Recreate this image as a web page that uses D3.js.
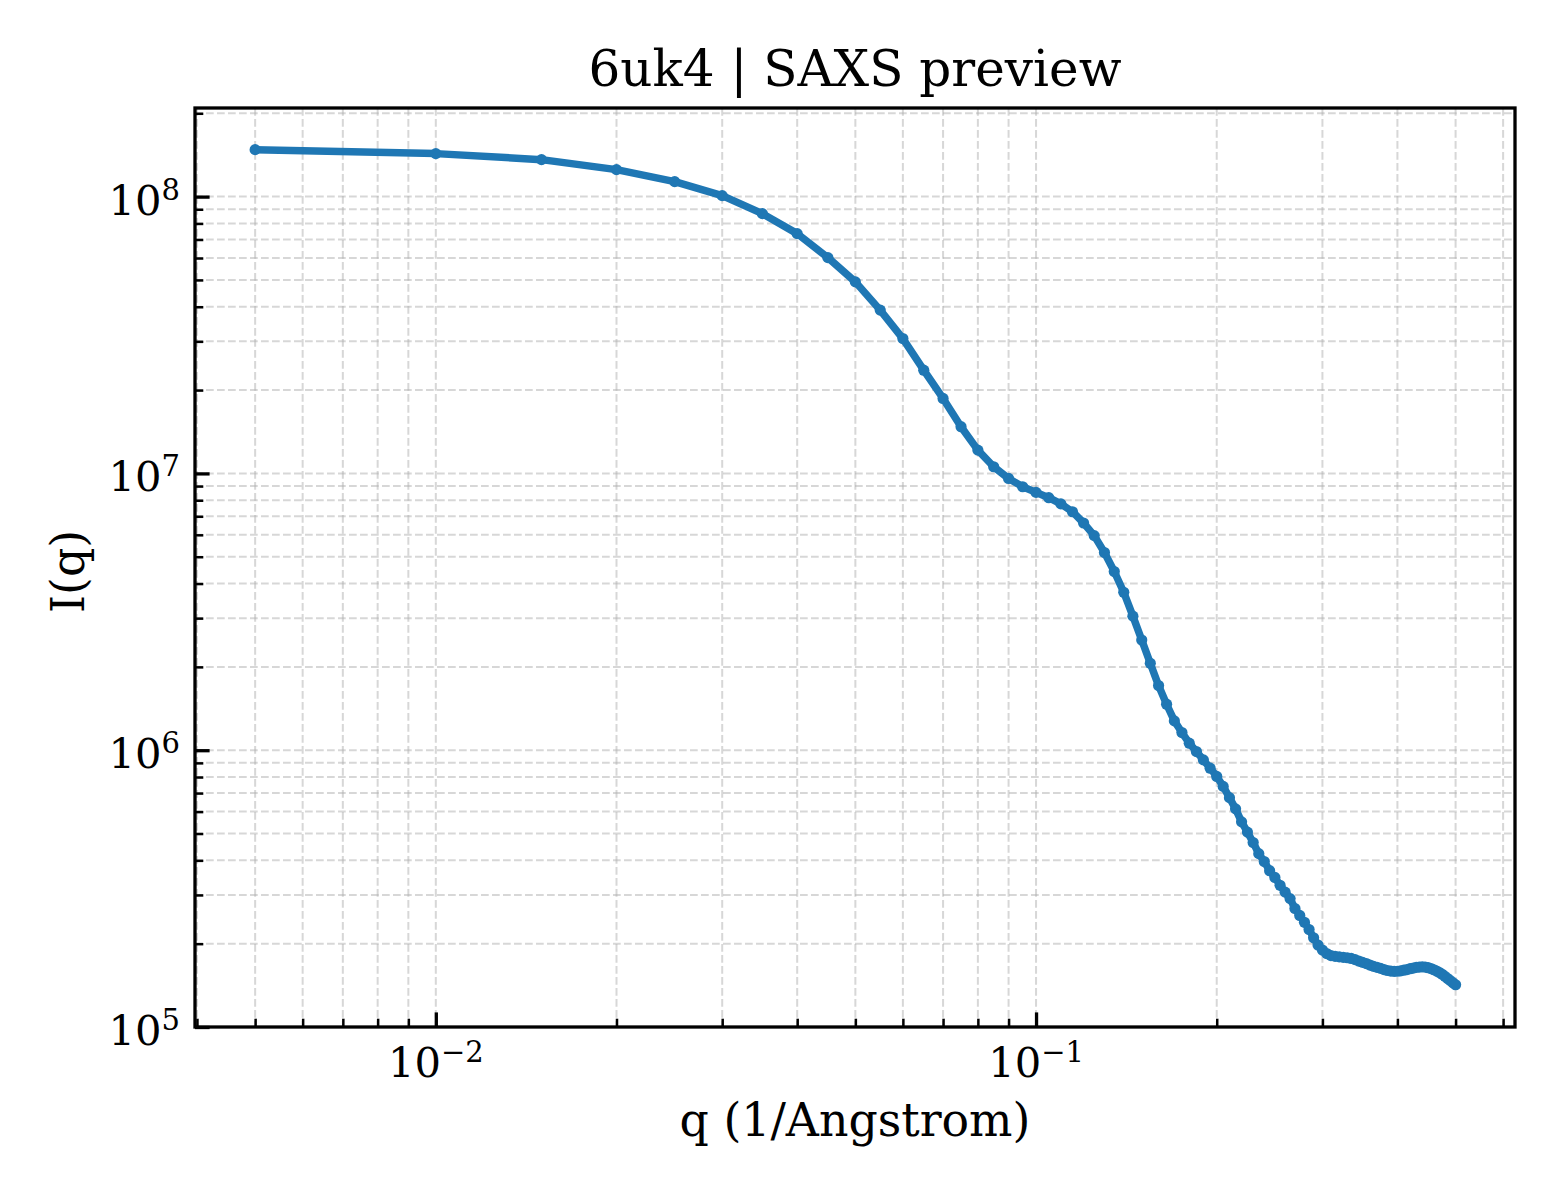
<!DOCTYPE html>
<html>
<head>
<meta charset="utf-8">
<script src="https://cdn.jsdelivr.net/npm/d3@7"></script>
<style>
  body { margin: 0; background: #fff; }
  svg { display: block; font-family: "DejaVu Serif", serif; }
</style>
</head>
<body>
<div id="chart"></div>
<script>
// scattering vector q (1/Angstrom)
var qValues = [
  0.005, 0.010, 0.015, 0.020, 0.025, 0.030, 0.035, 0.040, 0.045, 0.050,
  0.055, 0.060, 0.065, 0.070, 0.075, 0.080, 0.085, 0.090, 0.095, 0.100,
  0.105, 0.110, 0.115, 0.120, 0.125, 0.130, 0.135, 0.140, 0.145, 0.150,
  0.155, 0.160, 0.165, 0.170, 0.175, 0.180, 0.185, 0.190, 0.195, 0.200,
  0.205, 0.210, 0.215, 0.220, 0.225, 0.230, 0.235, 0.240, 0.245, 0.250,
  0.255, 0.260, 0.265, 0.270, 0.275, 0.280, 0.285, 0.290, 0.295, 0.300,
  0.305, 0.310, 0.315, 0.320, 0.325, 0.330, 0.335, 0.340, 0.345, 0.350,
  0.355, 0.360, 0.365, 0.370, 0.375, 0.380, 0.385, 0.390, 0.395, 0.400,
  0.405, 0.410, 0.415, 0.420, 0.425, 0.430, 0.435, 0.440, 0.445, 0.450,
  0.455, 0.460, 0.465, 0.470, 0.475, 0.480, 0.485, 0.490, 0.495, 0.500
];

// intensity I(q)
var intensity = [
  1.478e8, 1.430e8, 1.360e8, 1.252e8, 1.133e8, 1.008e8, 8.68e7, 7.35e7, 6.02e7, 4.92e7,
  3.89e7, 3.07e7, 2.36e7, 1.866e7, 1.475e7, 1.214e7, 1.057e7, 9.59e6, 8.95e6, 8.54e6,
  8.17e6, 7.76e6, 7.27e6, 6.62e6, 5.96e6, 5.18e6, 4.42e6, 3.72e6, 3.05e6, 2.50e6,
  2.06e6, 1.712e6, 1.466e6, 1.276e6, 1.158e6, 1.060e6, 9.89e5, 9.23e5, 8.61e5, 8.04e5,
  7.40e5, 6.74e5, 6.14e5, 5.51e5, 5.06e5, 4.64e5, 4.23e5, 3.96e5, 3.67e5, 3.47e5,
  3.25e5, 3.07e5, 2.91e5, 2.68e5, 2.53e5, 2.39e5, 2.25e5, 2.10e5, 1.977e5, 1.897e5,
  1.842e5, 1.812e5, 1.800e5, 1.792e5, 1.786e5, 1.779e5, 1.769e5, 1.752e5, 1.731e5, 1.712e5,
  1.695e5, 1.674e5, 1.656e5, 1.642e5, 1.629e5, 1.613e5, 1.600e5, 1.593e5, 1.589e5, 1.590e5,
  1.596e5, 1.604e5, 1.613e5, 1.624e5, 1.633e5, 1.642e5, 1.646e5, 1.649e5, 1.646e5, 1.638e5,
  1.626e5, 1.610e5, 1.593e5, 1.573e5, 1.550e5, 1.524e5, 1.497e5, 1.471e5, 1.445e5, 1.421e5
];

var xDomain = [0.00397, 0.628];
var yDomain = [1.0e5, 2.09e8];

var xMajorTicks = [0.01, 0.1];
var xTickExponents = ["\u22122", "\u22121"];
var yMajorTicks = [1e5, 1e6, 1e7, 1e8];
var yTickExponents = ["5", "6", "7", "8"];

var titleText = "6uk4 | SAXS preview";
var xLabelText = "q (1/Angstrom)";
var yLabelText = "I(q)";

(function() {
  var width = 1560, height = 1200;
  var margin = {top: 108, right: 45, bottom: 173, left: 195};
  var x0 = margin.left, x1 = width - margin.right;
  var y0 = margin.top, y1 = height - margin.bottom;

  var majorLen = 14.6, minorLen = 8.3;
  var tickFont = 41.7, supFont = 29;
  var lineColor = "#1f77b4";

  var svg = d3.select("#chart").append("svg")
    .attr("width", width)
    .attr("height", height);

  var x = d3.scaleLog().domain(xDomain).range([x0, x1]);
  var y = d3.scaleLog().domain(yDomain).range([y1, y0]);

  function isMajor(v, majors) {
    return majors.some(function(m) { return Math.abs(v / m - 1) < 1e-6; });
  }
  var xAll = x.ticks();
  var yAll = y.ticks();
  var xMinor = xAll.filter(function(v) { return !isMajor(v, xMajorTicks); });
  var yMinor = yAll.filter(function(v) { return !isMajor(v, yMajorTicks); });

  // grid, major and minor
  var grid = svg.append("g")
    .attr("stroke", "#b0b0b0")
    .attr("stroke-opacity", 0.5)
    .attr("stroke-width", 2)
    .attr("stroke-dasharray", "7.7,3.3");

  grid.selectAll("line.gx")
    .data(xAll)
    .enter().append("line")
    .attr("class", "gx")
    .attr("x1", function(d) { return x(d); })
    .attr("x2", function(d) { return x(d); })
    .attr("y1", y0)
    .attr("y2", y1);

  grid.selectAll("line.gy")
    .data(yAll)
    .enter().append("line")
    .attr("class", "gy")
    .attr("x1", x0)
    .attr("x2", x1)
    .attr("y1", function(d) { return y(d); })
    .attr("y2", function(d) { return y(d); });

  // inward ticks, bottom and left only
  function drawAxis(axisFn, scale, values, len, w, transform) {
    var g = svg.append("g")
      .attr("transform", transform)
      .call(axisFn(scale).tickValues(values).tickSizeInner(-len).tickSizeOuter(0).tickFormat(""));
    g.select(".domain").remove();
    g.selectAll(".tick line").attr("stroke", "#000").attr("stroke-width", w);
  }

  drawAxis(d3.axisBottom, x, xMinor, minorLen, 2.5, "translate(0," + y1 + ")");
  drawAxis(d3.axisBottom, x, xMajorTicks, majorLen, 3.3, "translate(0," + y1 + ")");
  drawAxis(d3.axisLeft, y, yMinor, minorLen, 2.5, "translate(" + x0 + ",0)");
  drawAxis(d3.axisLeft, y, yMajorTicks, majorLen, 3.3, "translate(" + x0 + ",0)");

  // data line with markers
  var points = qValues.map(function(q, i) { return [q, intensity[i]]; });

  var line = d3.line()
    .x(function(d) { return x(d[0]); })
    .y(function(d) { return y(d[1]); });

  svg.append("path")
    .datum(points)
    .attr("d", line)
    .attr("fill", "none")
    .attr("stroke", lineColor)
    .attr("stroke-width", 7.5)
    .attr("stroke-linejoin", "round")
    .attr("stroke-linecap", "round");

  svg.append("g").selectAll("circle")
    .data(points)
    .enter().append("circle")
    .attr("cx", function(d) { return x(d[0]); })
    .attr("cy", function(d) { return y(d[1]); })
    .attr("r", 5.6)
    .attr("fill", lineColor);

  // frame
  svg.append("rect")
    .attr("x", x0)
    .attr("y", y0)
    .attr("width", x1 - x0)
    .attr("height", y1 - y0)
    .attr("fill", "none")
    .attr("stroke", "#000")
    .attr("stroke-width", 3.3);

  // tick labels 10^n
  function powerLabel(t, exp) {
    t.append("tspan").text("10");
    t.append("tspan")
      .attr("font-size", supFont)
      .attr("dy", -15)
      .text(exp);
  }

  xMajorTicks.forEach(function(v, i) {
    var t = svg.append("text")
      .attr("x", x(v))
      .attr("y", y1 + 50)
      .attr("text-anchor", "middle")
      .attr("font-size", tickFont);
    powerLabel(t, xTickExponents[i]);
  });

  yMajorTicks.forEach(function(v, i) {
    var t = svg.append("text")
      .attr("x", x0 - 15)
      .attr("y", y(v) + 18)
      .attr("text-anchor", "end")
      .attr("font-size", tickFont);
    powerLabel(t, yTickExponents[i]);
  });

  // labels and title
  svg.append("text")
    .attr("x", (x0 + x1) / 2)
    .attr("y", 1136)
    .attr("text-anchor", "middle")
    .attr("font-size", 45.8)
    .text(xLabelText);

  svg.append("text")
    .attr("transform", "translate(84," + ((y0 + y1) / 2 + 4) + ") rotate(-90)")
    .attr("text-anchor", "middle")
    .attr("font-size", 45.8)
    .text(yLabelText);

  svg.append("text")
    .attr("x", (x0 + x1) / 2)
    .attr("y", 86)
    .attr("text-anchor", "middle")
    .attr("font-size", 50)
    .text(titleText);
})();
</script>
</body>
</html>
